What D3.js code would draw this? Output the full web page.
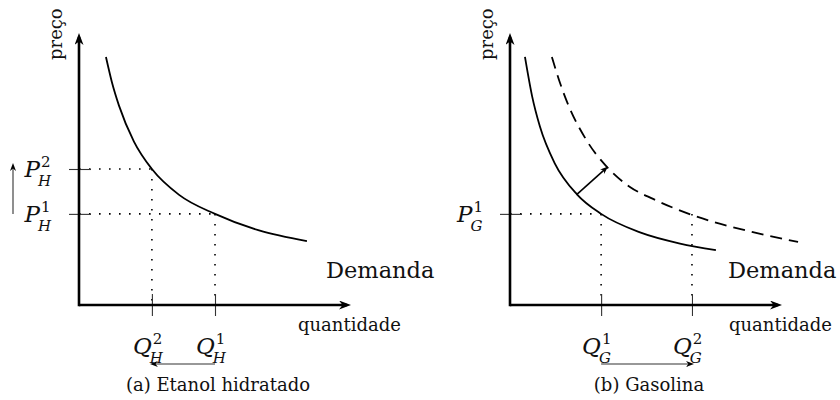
<!DOCTYPE html>
<html>
<head>
<meta charset="utf-8">
<script src="https://cdn.jsdelivr.net/npm/d3@7"></script>
<style>
body { margin: 0; background: #fff; }
text { font-family: "DejaVu Serif", serif; fill: #111; }
</style>
</head>
<body>
<svg id="mainSVG" width="840" height="400"></svg>
<script>

// curves (quantity, price), axis units 0..10
var demandaA = [[0.99,9.12],[1.21,8.19],[1.47,7.33],[2.02,6.01],[2.68,5.0],[3.68,4.05],[5.0,3.35],[6.62,2.74],[8.38,2.35]];
var demandaB = [[0.55,9.12],[0.81,7.69],[1.10,6.56],[1.65,5.20],[2.46,4.07],[3.35,3.35],[4.78,2.67],[6.25,2.26],[7.57,2.02]];
var demandaB2 = [[1.54,9.12],[1.84,8.16],[2.10,7.46],[2.83,6.03],[3.57,5.07],[4.41,4.34],[5.26,3.90],[6.69,3.31],[8.93,2.68],[10.59,2.32]];

// price / quantity levels
var precoA = [3.35, 5.0];     // P_H^1, P_H^2
var quantA = [5.0, 2.68];     // Q_H^1, Q_H^2
var precoB = [3.35];          // P_G^1
var quantB = [3.35, 6.69];    // Q_G^1, Q_G^2
var shiftB = [[2.46,4.07],[3.57,5.07]];

var labelsPA = [["P","1","H"],["P","2","H"]];
var labelsQA = [["Q","1","H"],["Q","2","H"]];
var labelsPB = [["P","1","G"]];
var labelsQB = [["Q","1","G"],["Q","2","G"]];

var svg = d3.select("#mainSVG");
var defs = svg.append("defs");

function addHead(id, len, half) {
  defs.append("marker")
    .attr("id", id)
    .attr("viewBox", "0 " + (-half) + " " + len + " " + (2*half))
    .attr("markerUnits", "userSpaceOnUse")
    .attr("markerWidth", len)
    .attr("markerHeight", 2*half)
    .attr("refX", len - 4)
    .attr("refY", 0)
    .attr("orient", "auto")
    .append("path")
    .attr("d", "M0," + (-half) + " L" + len + ",0 L0," + half + " L" + (len*0.3) + ",0 Z")
    .attr("fill", "#000");
}
addHead("axisHead", 12, 4.5);
addHead("thinHead", 8, 3);

var x = d3.scaleLinear().domain([0, 10]).range([0, 272]);
var y = d3.scaleLinear().domain([0, 10]).range([305, 33]);

var line = d3.line()
  .x(function(d) { return x(d[0]); })
  .y(function(d) { return y(d[1]); })
  .curve(d3.curveMonotoneX);

// base letter with stacked super/subscript, one text element
function mathLabel(g, lab) {
  var t = g.append("text").attr("font-size", 23);
  t.append("tspan").attr("font-style", "italic").text(lab[0]);
  var s = t.append("tspan").attr("font-size", 15).attr("dx", 1).attr("dy", -10).text(lab[1]);
  var sw = s.node().getComputedTextLength();
  t.append("tspan").attr("font-size", 15).attr("font-style", "italic")
    .attr("dx", -(sw + 3)).attr("dy", 19).text(lab[2]);
  return t;
}

function panel(ox, precos, quants, pLabels, qLabels, caption, demandaX) {
  var g = svg.append("g").attr("transform", "translate(" + ox + ",0)");

  // dotted guides
  precos.forEach(function(p, i) {
    var q = quants[i];
    g.append("line")
      .attr("x1", x(0)).attr("y1", y(p)).attr("x2", x(q)).attr("y2", y(p))
      .attr("stroke", "#000").attr("stroke-width", 1.6).attr("stroke-dasharray", "1.6,8.4");
  });
  quants.forEach(function(q, i) {
    var p = precos[Math.min(i, precos.length - 1)];
    g.append("line")
      .attr("x1", x(q)).attr("y1", y(p)).attr("x2", x(q)).attr("y2", y(0))
      .attr("stroke", "#000").attr("stroke-width", 1.6).attr("stroke-dasharray", "1.6,8.4");
  });

  // ticks via d3 axes
  var ax = g.append("g").attr("transform", "translate(0," + y(0) + ")")
    .call(d3.axisBottom(x).tickValues(quants).tickSize(11).tickFormat(""));
  ax.select(".domain").remove();
  ax.selectAll(".tick line").attr("y1", -11).attr("stroke", "#333").attr("stroke-width", 1.1);

  var ay = g.append("g")
    .call(d3.axisLeft(y).tickValues(precos).tickSize(10).tickFormat(""));
  ay.select(".domain").remove();
  ay.selectAll(".tick line").attr("x1", 12).attr("stroke", "#333").attr("stroke-width", 1.1);

  // axes with arrows
  g.append("line")
    .attr("x1", x(0)).attr("y1", y(0)).attr("x2", x(10) - 4).attr("y2", y(0))
    .attr("stroke", "#000").attr("stroke-width", 2.6).attr("marker-end", "url(#axisHead)");
  g.append("line")
    .attr("x1", x(0)).attr("y1", y(0) + 1.3).attr("x2", x(0)).attr("y2", y(10) + 4)
    .attr("stroke", "#000").attr("stroke-width", 2.6).attr("marker-end", "url(#axisHead)");

  // labels on ticks
  precos.forEach(function(p, i) {
    var lab = mathLabel(g, pLabels[i]);
    var bb = lab.node().getBBox();
    lab.attr("transform", "translate(" + (-27 - (bb.x + bb.width)) + "," + (y(p) + 8) + ")");
  });
  quants.forEach(function(q, i) {
    var lab = mathLabel(g, qLabels[i]);
    lab.attr("transform", "translate(" + (x(q) - 19) + ",354)");
  });

  g.append("text")
    .attr("transform", "translate(-17,60) rotate(-90)")
    .attr("font-size", 18)
    .text("preço");
  g.append("text")
    .attr("x", 219).attr("y", 331)
    .attr("font-size", 18)
    .text("quantidade");
  g.append("text")
    .attr("x", demandaX).attr("y", 278)
    .attr("font-size", 22.5)
    .text("Demanda");
  g.append("text")
    .attr("x", 139).attr("y", 391)
    .attr("text-anchor", "middle")
    .attr("font-size", 18)
    .text(caption);

  return g;
}

// (a) Etanol hidratado
var gA = panel(79, precoA, quantA, labelsPA, labelsQA, "(a) Etanol hidratado", 247);
gA.append("path").datum(demandaA)
  .attr("d", line).attr("fill", "none").attr("stroke", "#000").attr("stroke-width", 1.8);
gA.append("line")
  .attr("x1", -66).attr("y1", y(precoA[0])).attr("x2", -66).attr("y2", y(precoA[1]) - 2)
  .attr("stroke", "#333").attr("stroke-width", 1.1).attr("marker-end", "url(#thinHead)");
gA.append("line")
  .attr("x1", x(quantA[0])).attr("y1", 364).attr("x2", x(quantA[1]) + 2).attr("y2", 364)
  .attr("stroke", "#333").attr("stroke-width", 1.1).attr("marker-end", "url(#thinHead)");

// (b) Gasolina
var gB = panel(510, precoB, quantB, labelsPB, labelsQB, "(b) Gasolina", 218);
gB.append("path").datum(demandaB)
  .attr("d", line).attr("fill", "none").attr("stroke", "#000").attr("stroke-width", 1.8);
gB.append("path").datum(demandaB2)
  .attr("d", line).attr("fill", "none").attr("stroke", "#000").attr("stroke-width", 1.8)
  .attr("stroke-dasharray", "12,7");
gB.append("line")
  .attr("x1", x(shiftB[0][0])).attr("y1", y(shiftB[0][1]))
  .attr("x2", x(shiftB[1][0]) - 2).attr("y2", y(shiftB[1][1]) + 2)
  .attr("stroke", "#000").attr("stroke-width", 1.6).attr("marker-end", "url(#thinHead)");
gB.append("line")
  .attr("x1", x(quantB[0])).attr("y1", 364).attr("x2", x(quantB[1]) - 2).attr("y2", 364)
  .attr("stroke", "#333").attr("stroke-width", 1.1).attr("marker-end", "url(#thinHead)");

</script>
</body>
</html>
